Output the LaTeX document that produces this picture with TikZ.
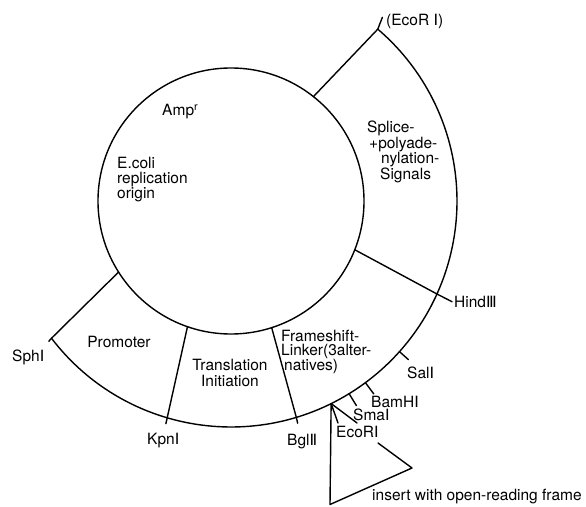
\documentclass[tikz,border=0pt]{standalone}
\usepackage{fontspec}
\setmainfont{TeX Gyre Heros}
\newfontfamily\rnfont{DejaVu Sans}
\newcommand{\rI}{{\rnfont Ⅰ}}
\newcommand{\rII}{{\rnfont Ⅱ}}
\newcommand{\rIII}{{\rnfont Ⅲ}}
\usetikzlibrary{calc}
\tikzset{
  line/.style={line width=1.4pt, line cap=round, line join=round},
  lbl/.style={inner sep=0pt, anchor=west, font=\fontsize{15.5}{14}\selectfont},
  blk/.style={inner sep=0pt, font=\fontsize{15.5}{14}\selectfont},
}
\begin{document}
\begin{tikzpicture}[x=1pt,y=1pt]
\useasboundingbox (0,0) rectangle (586,506);
\coordinate (C) at (231,305);
% circles
\draw[line] (C) circle (133);
\draw[line] ($(C)+(217.4:226)$) arc[start angle=217.4, end angle=409.5, radius=226];
% radial boundaries
\draw[line] ($(C)+(51.7:133)$) -- ($(C)+(49.5:226)$) coordinate (ecoTop) -- ($(C)+(50.5:238)$) coordinate (ecoTopT);
\draw[line] ($(C)+(-21.5:133)$) -- ($(C)+(-24.3:226)$) -- ($(C)+(-24.5:243)$) coordinate (hindT);
\draw[line] ($(C)+(212.3:133)$) -- ($(C)+(217.4:226)$) -- ($(C)+(217.6:230)$) coordinate (sphT);
\draw[line] ($(C)+(-109.1:133)$) -- ($(C)+(-106.4:226)$) -- ($(C)+(-106.3:232)$) coordinate (kpnT);
\draw[line] ($(C)+(-72.2:133)$) -- ($(C)+(-73.2:226)$) -- ($(C)+(-73.3:232)$) coordinate (bglT);
% ticks
\draw[line] ($(C)+(-41.8:226)$) -- ($(C)+(-41.8:238)$) coordinate (salT);
\draw[line] ($(C)+(-53.5:226)$) -- ($(C)+(-53.5:240)$) coordinate (bamT);
\draw[line] ($(C)+(-58.5:226)$) -- ($(C)+(-58.5:240)$) coordinate (smaT);
\coordinate (apex) at ($(C)+(-63.7:226)$);
\coordinate (ecoT) at (338,83);
\draw[line] (apex) -- (ecoT);
% insert triangle
\coordinate (bl) at (330,1.5);
\coordinate (tip) at (412,38);
\coordinate (gapA) at (357,83);
\coordinate (gapB) at (378,63);
\draw[line] (apex) -- (bl) -- (tip) -- (gapB);
\draw[line] (apex) -- (gapA);
% labels
\node[lbl] (lecotop) at (386,485) {(EcoR\ \rI)};
\node[lbl] (lhind) at (454,204) {Hind\rIII};
\node[lbl] (lsal) at (407,133) {Sal\rI};
\node[lbl] (lbam) at (371,104) {BamH\rI};
\node[lbl] (lsma) at (353,91) {Sma\rI};
\node[lbl] (leco) at (336,74) {EcoR\rI};
\node[lbl] (lbgl) at (287,64) {Bgl\rII};
\node[lbl] (lkpn) at (147,65) {Kpn\rI};
\node[lbl] (lsph) at (12,149) {Sph\rI};
\node[lbl] (lins) at (372,9) {insert with open-reading frame};
% region texts
\node[blk] (prom) at (119,164) {Promoter};
\node[blk, align=center] (trans) at (230,133) {Translation\\[2pt]Initiation};
\node[blk, align=left, anchor=west] (frame) at (281,154) {Frameshift-\\Linker(3alter-\\\hspace*{3pt}natives)};
\node[blk, align=left, anchor=west, font=\fontsize{15.5}{14.5}\selectfont] (splice) at (367,354) {Splice-\\\hspace*{2pt}+polyade-\\\hspace*{14pt}nylation-\\\hspace*{13pt}Signals};
\node[blk, align=left, anchor=west, font=\fontsize{15.5}{15}\selectfont] (ecoli) at (117,326) {E.coli\\replication\\origin};
\node[blk, anchor=west] (amp) at (162,394) {Amp$^{\mathrm{r}}$};
\end{tikzpicture}
\end{document}
